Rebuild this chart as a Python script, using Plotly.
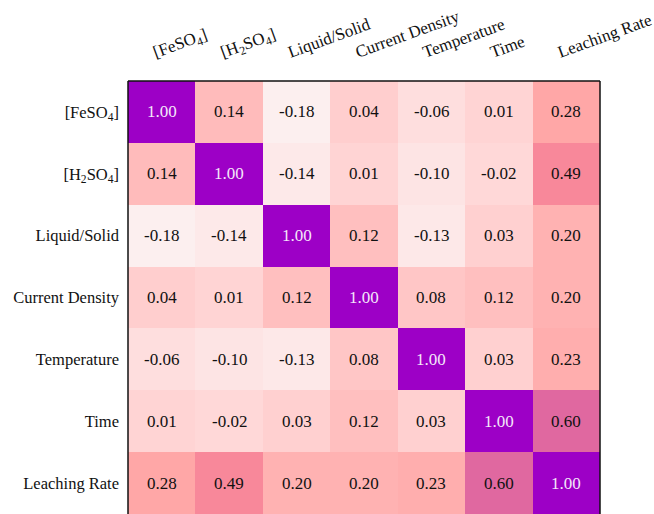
import plotly.graph_objects as go

labels = ["[FeSO<sub>4</sub>]", "[H<sub>2</sub>SO<sub>4</sub>]", "Liquid/Solid",
          "Current Density", "Temperature", "Time", "Leaching Rate"]

corr = [
    [1.00, 0.14, -0.18, 0.04, -0.06, 0.01, 0.28],
    [0.14, 1.00, -0.14, 0.01, -0.10, -0.02, 0.49],
    [-0.18, -0.14, 1.00, 0.12, -0.13, 0.03, 0.20],
    [0.04, 0.01, 0.12, 1.00, 0.08, 0.12, 0.20],
    [-0.06, -0.10, -0.13, 0.08, 1.00, 0.03, 0.23],
    [0.01, -0.02, 0.03, 0.12, 0.03, 1.00, 0.60],
    [0.28, 0.49, 0.20, 0.20, 0.23, 0.60, 1.00],
]

colorscale = [
    [0.0, "#fcefef"],
    [0.16, "#ffd4d4"],
    [0.27, "#ffbbbb"],
    [0.39, "#ffa7a7"],
    [0.57, "#f8889a"],
    [0.66, "#e068a0"],
    [1.0, "#9d00c6"],
]

n = len(labels)
xs = list(range(n))
fig = go.Figure(go.Heatmap(
    z=corr, x=xs, y=xs, colorscale=colorscale, zmin=-0.18, zmax=1.0,
    showscale=False, hoverinfo="skip",
))

font = "Liberation Serif, Times New Roman, serif"
for i, row in enumerate(corr):
    for j, v in enumerate(row):
        fig.add_annotation(
            x=j, y=i, text=f"{v:.2f}", showarrow=False,
            font=dict(family=font, size=17,
                      color="#f4e8fa" if v >= 0.95 else "#111111"),
        )

fig.update_layout(
    width=654, height=514,
    margin=dict(l=128, r=52, t=81, b=0),
    paper_bgcolor="white", plot_bgcolor="white",
    font=dict(family=font, size=16, color="#111111"),
    xaxis=dict(side="top", tickmode="array", tickvals=xs, ticktext=labels,
               tickangle=-20, range=[-0.5, n - 0.5], showgrid=False,
               zeroline=False, ticks="", ticklen=0,
               ticklabelstandoff=18, ticklabelshift=-9,
               ticklabeloverflow="allow",
               tickfont=dict(family=font, size=17)),
    yaxis=dict(tickmode="array", tickvals=xs, ticktext=labels,
               range=[n - 0.5, -0.5], showgrid=False, zeroline=False,
               ticks="", ticklen=0, ticklabelstandoff=8,
               tickfont=dict(family=font, size=16.5)),
    shapes=[
        dict(type="line", xref="paper", yref="paper", x0=0, x1=0, y0=0, y1=1,
             line=dict(color="#111111", width=1.5)),
        dict(type="line", xref="paper", yref="paper", x0=0, x1=1, y0=1, y1=1,
             line=dict(color="#111111", width=1.5)),
        dict(type="line", xref="paper", yref="paper", x0=1, x1=1, y0=0, y1=1,
             line=dict(color="#111111", width=1.5)),
    ],
)

fig.write_html("out.html")
